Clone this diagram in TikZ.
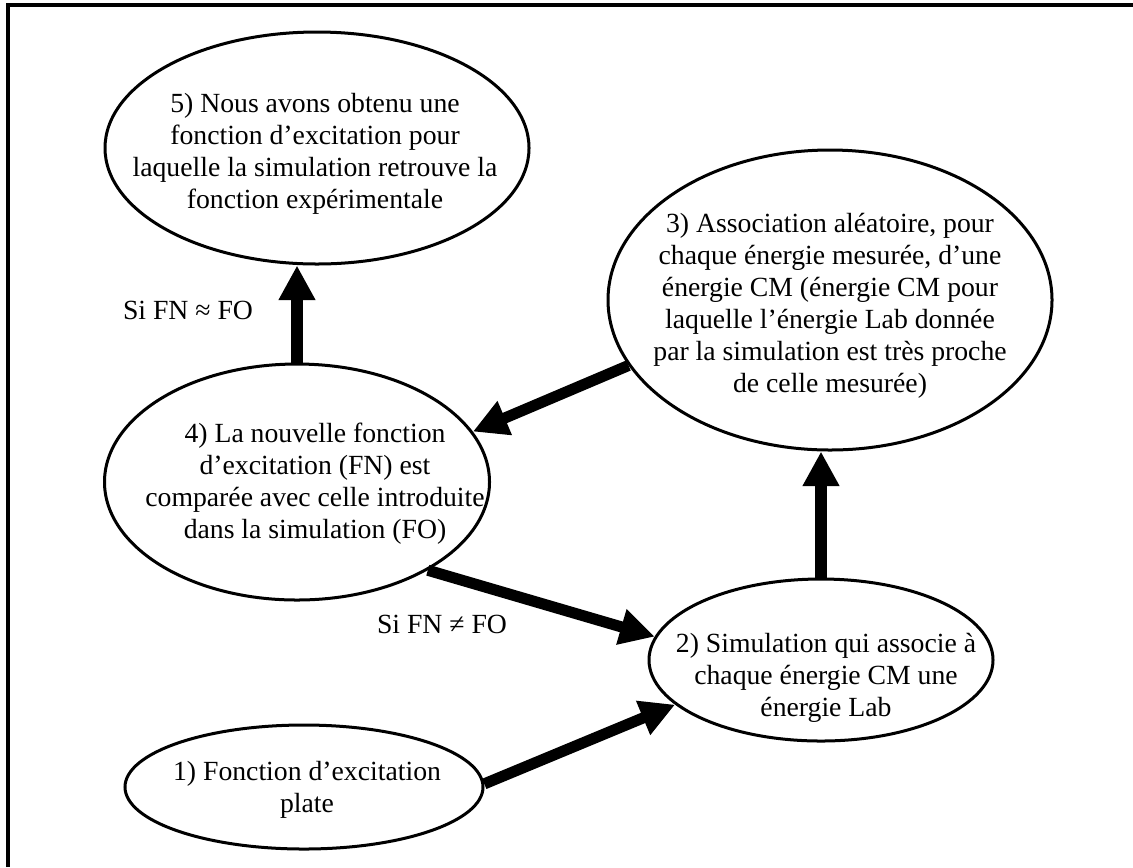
\documentclass[tikz,border=0pt]{standalone}
\usepackage{fontspec}
\setmainfont{Liberation Serif}
\usetikzlibrary{shapes.geometric,arrows.meta}
\newcommand{\pxu}{0.433pt}
\tikzset{
  bubble/.style 2 args={draw, ellipse, line width=1.3pt, inner sep=0pt,
    minimum width=#1*\pxu, minimum height=#2*\pxu},
  txt/.style={align=center, inner sep=0pt, font=\fontsize{12}{13.86}\selectfont},
  bigarrow/.style={line width=4.8pt, -{Triangle[width=15pt,length=15pt]}},
  frame/.style={line width=1.7pt}
}

\begin{document}
\begin{tikzpicture}[x=\pxu,y=-\pxu]
  \useasboundingbox (0,0) rectangle (1133,867);
  % outer frame (top and left edges)
  \draw[frame] (8,867) |- (1133,5);
  % the five steps
  \node[bubble={424}{232}] (e5) at (317,148) {};
  \node[bubble={444}{300}] (e3) at (830,300) {};
  \node[bubble={385}{236}] (e4) at (297,482) {};
  \node[bubble={344}{162}] (e2) at (821,660) {};
  \node[bubble={358}{124}] (e1) at (304,787) {};
  \node[txt] (t5) at (315,154) {5) Nous avons obtenu une\\fonction d’excitation pour\\laquelle la simulation retrouve la\\fonction expérimentale};
  \node[txt] (t3) at (830,306) {3) Association aléatoire, pour\\chaque énergie mesurée, d’une\\énergie CM (énergie CM pour\\laquelle l’énergie Lab donnée\\par la simulation est très proche\\de celle mesurée)};
  \node[txt] (t4) at (315,484) {4) La nouvelle fonction\\d’excitation (FN) est\\comparée avec celle introduite\\dans la simulation (FO)};
  \node[txt] (t2) at (826,678) {2) Simulation qui associe à\\chaque énergie CM une\\énergie Lab};
  \node[txt] (t1) at (307,790) {1) Fonction d’excitation\\plate};
  % arrows
  \draw[bigarrow] (e1.1) -- (e2.197);
  \draw[bigarrow] (e2.north) -- (e2.north |- e3.south);
  \draw[bigarrow] (e3.198) -- (e4.16);
  \draw[bigarrow] (e4.north) -- (e4.north |- e5.south);
  \draw[bigarrow] (e4.-34) -- (e2.172);
  % conditions
  \node[txt] (ok) at (188,310) {Si FN ≈ FO};
  \node[txt] (ko) at (442,624) {Si FN ≠ FO};
\end{tikzpicture}
\end{document}
